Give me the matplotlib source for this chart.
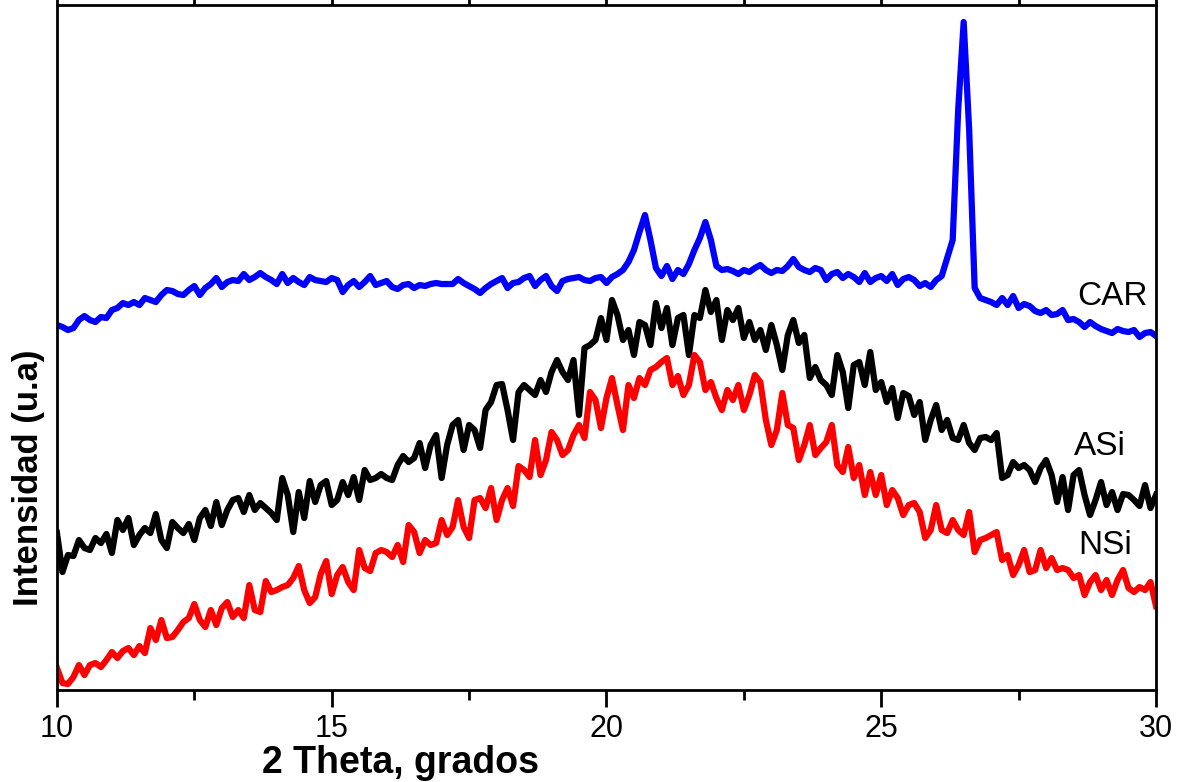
import numpy as np
import matplotlib
matplotlib.use("Agg")
import matplotlib.pyplot as plt
from matplotlib.ticker import MultipleLocator

plt.rcParams["font.family"] = ["Liberation Sans", "DejaVu Sans"]

# 2 theta grid (degrees), 0.1 step from 10 to 30
two_theta = np.round(np.arange(10.0, 30.0001, 0.1), 1)

# intensities (a.u., offset stacked as in the original figure)
car = [
    365, 363, 360, 362, 370, 374, 370, 368, 373, 372,
    380, 382, 387, 385, 388, 385, 392, 390, 388, 395,
    400, 399, 396, 395, 400, 404, 395, 402, 406, 412,
    403, 408, 410, 409, 416, 410, 413, 417, 413, 410,
    406, 416, 407, 412, 408, 405, 413, 410, 409, 408,
    412, 410, 398, 405, 409, 403, 408, 414, 405, 407,
    409, 403, 401, 405, 406, 402, 405, 404, 406, 407,
    406, 406, 406, 411, 407, 404, 401, 397, 402, 406,
    409, 412, 402, 407, 408, 412, 414, 404, 410, 414,
    404, 399, 409, 411, 412, 413, 410, 409, 412, 413,
    407, 413, 416, 420, 428, 440, 458, 475, 450, 422,
    414, 424, 411, 420, 416, 426, 440, 452, 468, 450,
    424, 420, 421, 419, 416, 420, 418, 422, 425, 420,
    417, 420, 419, 424, 431, 423, 420, 418, 422, 420,
    410, 416, 418, 412, 416, 413, 408, 417, 408, 412,
    414, 409, 416, 405, 411, 413, 410, 404, 407, 403,
    410, 414, 432, 450, 580, 668, 560, 402, 392, 390,
    388, 385, 392, 385, 394, 382, 386, 384, 379, 377,
    380, 375, 376, 380, 370, 371, 368, 363, 368, 364,
    361, 359, 357, 361, 359, 358, 360, 353, 357, 358,
    354,
]

asi = [
    157, 118, 135, 134, 150, 142, 140, 152, 147, 156,
    137, 170, 160, 172, 145, 155, 162, 157, 176, 150,
    142, 168, 162, 157, 166, 150, 172, 180, 164, 188,
    165, 180, 190, 192, 178, 195, 180, 187, 182, 177,
    170, 212, 195, 158, 198, 172, 209, 188, 205, 209,
    185, 190, 208, 195, 213, 190, 220, 210, 212, 216,
    212, 210, 225, 234, 228, 232, 247, 222, 245, 255,
    212, 245, 265, 270, 240, 265, 260, 242, 280, 288,
    305, 306, 280, 250, 298, 305, 300, 295, 310, 298,
    318, 330, 318, 310, 330, 275, 342, 345, 350, 372,
    350, 390, 375, 350, 360, 335, 368, 365, 345, 387,
    362, 382, 345, 372, 375, 335, 375, 372, 400, 378,
    390, 350, 380, 370, 382, 352, 368, 350, 360, 340,
    365, 345, 320, 355, 370, 347, 355, 312, 323, 310,
    305, 295, 335, 318, 282, 325, 328, 305, 338, 300,
    308, 288, 302, 272, 297, 294, 275, 288, 250, 270,
    285, 260, 270, 252, 250, 265, 247, 240, 252, 253,
    250, 257, 212, 215, 228, 222, 225, 220, 208, 222,
    230, 215, 188, 213, 180, 215, 220, 195, 175, 190,
    208, 185, 198, 180, 196, 195, 190, 184, 205, 182,
    195,
]

nsi = [
    22, 7, 6, 13, 25, 15, 25, 27, 23, 30,
    38, 32, 39, 42, 35, 44, 37, 62, 50, 70,
    52, 53, 60, 68, 72, 86, 70, 63, 80, 65,
    82, 88, 73, 80, 72, 105, 80, 78, 109, 98,
    100, 103, 105, 112, 124, 100, 87, 93, 116, 129,
    96, 115, 123, 108, 100, 140, 122, 119, 137, 140,
    138, 133, 145, 128, 165, 158, 137, 150, 145, 147,
    170, 155, 163, 190, 163, 152, 190, 192, 182, 202,
    170, 190, 202, 184, 224, 220, 213, 250, 215, 230,
    258, 250, 235, 240, 255, 265, 252, 298, 290, 262,
    292, 312, 285, 260, 305, 292, 312, 305, 320, 323,
    328, 332, 305, 314, 295, 305, 335, 328, 300, 308,
    292, 280, 300, 290, 305, 280, 295, 315, 308, 270,
    245, 260, 297, 265, 262, 230, 245, 265, 235, 242,
    248, 265, 225, 218, 243, 212, 225, 195, 218, 195,
    215, 185, 200, 192, 175, 185, 187, 178, 152, 160,
    185, 160, 157, 170, 160, 155, 178, 138, 150, 152,
    155, 158, 130, 135, 115, 125, 140, 118, 120, 140,
    122, 132, 120, 122, 120, 112, 115, 95, 108, 115,
    100, 110, 95, 110, 120, 102, 98, 103, 100, 108,
    84,
]

series = [
    (car, "#0000ff", "CAR", 28.56, 394),
    (asi, "#000000", "ASi", 28.50, 244),
    (nsi, "#ff0000", "NSi", 28.58, 145),
]

fig = plt.figure(figsize=(11.79, 7.82), dpi=100)
ax = fig.add_axes([0.0483, 0.1176, 0.9322, 0.876])

for values, color, label, lx, ly in series:
    ax.plot(two_theta, values, color=color, lw=4.5, solid_joinstyle="round")
    ax.text(lx, ly, label, fontsize=24, ha="left", va="center", color="black")

ax.set_xlim(10, 30)
ax.set_ylim(0, 685)

ax.xaxis.set_major_locator(MultipleLocator(5))
ax.xaxis.set_minor_locator(MultipleLocator(2.5))
ax.tick_params(axis="x", which="major", direction="out", length=12, width=2,
               labelsize=22, pad=5, top=True)
ax.tick_params(axis="x", which="minor", direction="out", length=7, width=2, top=True)
ax.set_yticks([])

for sp in ax.spines.values():
    sp.set_linewidth(2)

ax.set_xlabel("2 Theta, grados", fontsize=27, fontweight="bold", va="center")
ax.xaxis.set_label_coords(0.313, -0.106)
ax.set_ylabel("Intensidad (u.a)", fontsize=25, fontweight="bold", va="center")
ax.yaxis.set_label_coords(-0.026, 0.31)

fig.savefig("out.png", dpi=100)
